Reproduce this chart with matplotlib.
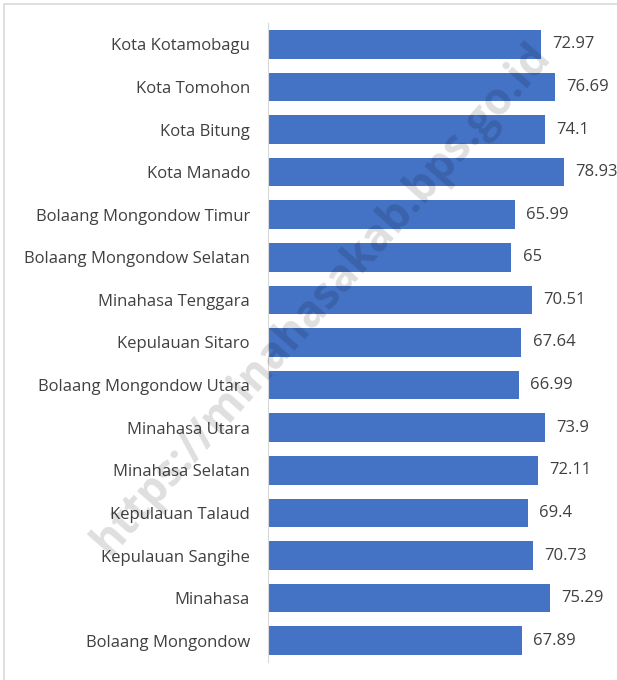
import matplotlib.pyplot as plt
from matplotlib.patches import Rectangle

regions = ['Kota Kotamobagu', 'Kota Tomohon', 'Kota Bitung', 'Kota Manado',
           'Bolaang Mongondow Timur', 'Bolaang Mongondow Selatan',
           'Minahasa Tenggara', 'Kepulauan Sitaro', 'Bolaang Mongondow Utara',
           'Minahasa Utara', 'Minahasa Selatan', 'Kepulauan Talaud',
           'Kepulauan Sangihe', 'Minahasa', 'Bolaang Mongondow']
values = [72.97, 76.69, 74.1, 78.93, 65.99, 65, 70.51, 67.64, 66.99,
          73.9, 72.11, 69.4, 70.73, 75.29, 67.89]
value_labels = ['72.97', '76.69', '74.1', '78.93', '65.99', '65', '70.51',
                '67.64', '66.99', '73.9', '72.11', '69.4', '70.73', '75.29',
                '67.89']

plt.rcParams['font.family'] = ['Open Sans', 'DejaVu Sans']

fig = plt.figure(figsize=(6.17, 6.8), dpi=100)
ax = fig.add_axes([268/617, 1-662/680, (605-268)/617, (662-23)/680])

# border around the chart
fig.patches.append(Rectangle((4/617, -0.1), 1.2, 1.1-4/680, transform=fig.transFigure,
                             fill=False, edgecolor='#D9D9D9', linewidth=1.2))

y = list(range(len(regions)))
ax.barh(y, values, height=0.67, color='#4472C4', zorder=2)
for yi, v, lab in zip(y, values, value_labels):
    ax.text(v + 3, yi, lab, va='center', ha='left', fontsize=12, color='#404040')

ax.set_ylim(len(regions) - 0.5, -0.5)
ax.set_xlim(0, 90)
ax.set_yticks(y)
ax.set_yticklabels(regions, fontsize=12, color='#404040')
ax.tick_params(axis='y', length=0, pad=13)
ax.set_xticks([])
ax.patch.set_alpha(0)
for s in ['top', 'right', 'bottom']:
    ax.spines[s].set_visible(False)
ax.spines['left'].set_color('#D9D9D9')

# semi-transparent watermark over the chart
fig.text(0.522, 0.56, 'https://minahasakab.bps.go.id', rotation=48.5,
         ha='center', va='center', fontsize=31.5, fontweight='bold',
         color='black', alpha=0.13, zorder=10)

fig.savefig('out.png', dpi=100)
